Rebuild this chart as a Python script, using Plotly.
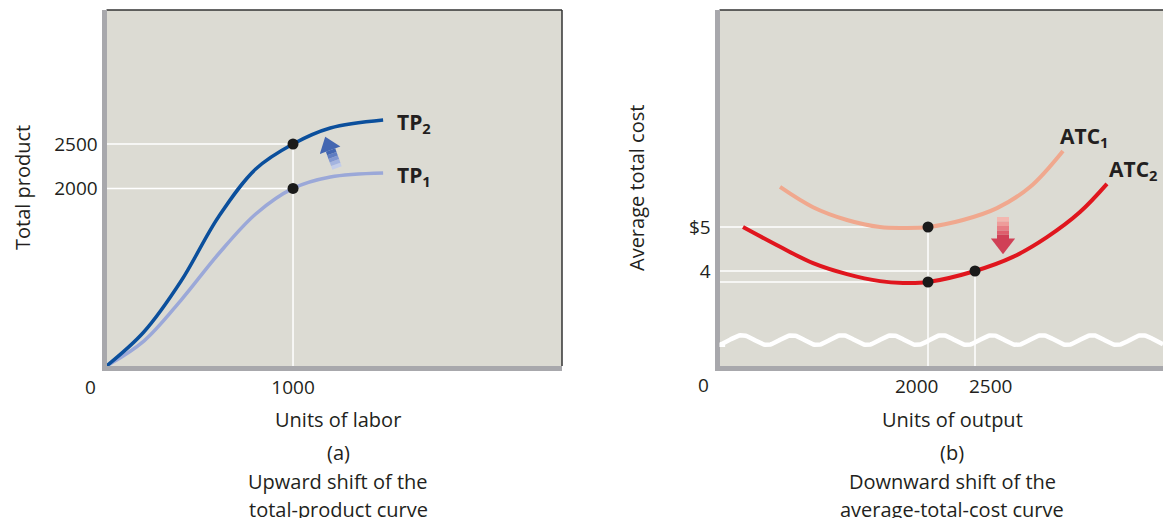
import numpy as np
import plotly.graph_objects as go

# ---------------- data: panel (a) ----------------
labor = [0, 200, 400, 600, 800, 1000, 1200, 1483]
tp2 = [0, 383, 957, 1678, 2218, 2500, 2680, 2770]
tp1 = [0, 281, 743, 1261, 1712, 2000, 2128, 2173]
pts_a_x = [1000, 1000]
pts_a_y = [2500, 2000]
xticks_a = [1000]
yticks_a = [2000, 2500]

# ---------------- data: panel (b) ----------------
out_atc1 = [426, 777, 1138, 1489, 1734, 2000, 2372, 2734, 3085, 3436]
atc1 = [5.91, 5.45, 5.16, 5.0, 4.98, 5.0, 5.16, 5.43, 5.91, 6.73]
out_atc2 = [32, 426, 777, 1138, 1489, 1734, 2000, 2500, 2904, 3266, 3617, 3904]
atc2 = [5.0, 4.55, 4.18, 3.93, 3.77, 3.73, 3.75, 4.0, 4.32, 4.77, 5.34, 5.98]
pts_b_x = [2000, 2000, 2500]
pts_b_y = [5.0, 3.75, 4.0]
xticks_b = [2000, 2500]
yticks_b = [4, 5]
yticks_b_text = ["4", "$5"]

# shift arrows (tail -> head base, then head position)
arrow_a = dict(x=[1236, 1201], y=[2230, 2432], tip=(1190, 2480))
arrow_b = dict(x=[2798, 2798], y=[5.227, 4.72], tip=(2798, 4.62))

# ---------------- styling ----------------
W, H = 1163, 518
BG = "#dcdbd3"
AXIS = "#a8a8ac"
TXT = "#231f20"
FONT = "'Open Sans', Lato, sans-serif"
xr_a = [0, 2442]
yr_a = [0, 4009]
xr_b = [-218, 4500]
yr_b = [1.841, 9.932]
dom_a = [106.5 / W, 562 / W]
dom_b = [719.5 / W, 1.0]

fig = go.Figure()

def line(x, y, color, width, xa="x", ya="y", shape="linear"):
    fig.add_trace(go.Scatter(x=x, y=y, mode="lines", xaxis=xa, yaxis=ya,
                             line=dict(color=color, width=width, shape=shape),
                             hoverinfo="skip", showlegend=False))

# guide lines panel (a)
for px, py_ in zip(pts_a_x, pts_a_y):
    line([0, px], [py_, py_], "white", 1.5)
line([pts_a_x[0], pts_a_x[0]], [0, max(pts_a_y)], "white", 1.5)

# curves panel (a)
line(labor, tp1, "#9ba8d8", 3.5, shape="spline")
line(labor, tp2, "#0b4f9c", 3.5, shape="spline")
fig.add_trace(go.Scatter(x=pts_a_x, y=pts_a_y, mode="markers", xaxis="x", yaxis="y",
                         marker=dict(color="#1a1a1a", size=11), hoverinfo="skip",
                         showlegend=False))

# guide lines panel (b)
for px, py_ in zip(pts_b_x, pts_b_y):
    line([xr_b[0], px], [py_, py_], "white", 1.5, "x2", "y2")
line([2000, 2000], [yr_b[0], 5.0], "white", 1.5, "x2", "y2")
line([2500, 2500], [yr_b[0], 4.0], "white", 1.5, "x2", "y2")

# axis break squiggle (decoration)
sq_y0, sq_amp, sq_per, sq_ph = 2.43, 0.11, 532, 21
sq_x = np.linspace(xr_b[0] - 150, xr_b[1], 500)
sq_y = sq_y0 + sq_amp * np.cos(2 * np.pi * (sq_x - sq_ph) / sq_per)
line(sq_x, sq_y, "white", 4.5, "x2", "y2")

# curves panel (b)
line(out_atc1, atc1, "#f0a88e", 4, "x2", "y2", shape="spline")
line(out_atc2, atc2, "#e0161e", 4, "x2", "y2", shape="spline")
fig.add_trace(go.Scatter(x=pts_b_x, y=pts_b_y, mode="markers", xaxis="x2", yaxis="y2",
                         marker=dict(color="#1a1a1a", size=11), hoverinfo="skip",
                         showlegend=False))

# shift arrows: graded shaft + triangular head
def grad_arrow(a, colors, width, head_symbol, head_size, head_angle, xa, ya):
    x0, x1 = a["x"]
    y0, y1 = a["y"]
    n = len(colors)
    for i, c in enumerate(colors):
        f0, f1 = i / n, (i + 1) / n
        line([x0 + (x1 - x0) * f0, x0 + (x1 - x0) * f1],
             [y0 + (y1 - y0) * f0, y0 + (y1 - y0) * f1], c, width, xa, ya)
    fig.add_trace(go.Scatter(x=[a["tip"][0]], y=[a["tip"][1]], mode="markers",
                             xaxis=xa, yaxis=ya, hoverinfo="skip", showlegend=False,
                             marker=dict(symbol=head_symbol, size=head_size,
                                         angle=head_angle, color=colors[-1],
                                         line=dict(width=0))))

grad_arrow(arrow_a, ["#c3cdea", "#a4b4e0", "#8298d2", "#5f7dc2", "#4366b1"], 10,
           "triangle-up", 19, -20, "x", "y")
grad_arrow(arrow_b, ["#f3b7b0", "#ee9c9a", "#e77e85", "#de5f6d", "#d04056"], 12,
           "triangle-down", 21, 0, "x2", "y2")

ax_common = dict(showgrid=False, zeroline=False, showline=True, linecolor=AXIS,
                 linewidth=5, ticks="", tickfont=dict(family=FONT, size=19, color=TXT),
                 fixedrange=True)

fig.update_layout(
    width=W, height=H, paper_bgcolor="white", plot_bgcolor=BG,
    margin=dict(l=0, r=0, t=10, b=152), showlegend=False, hovermode=False,
    font=dict(family=FONT, color=TXT),
    xaxis=dict(domain=dom_a, range=xr_a, anchor="y", tickvals=xticks_a,
               ticktext=[str(v) for v in xticks_a], **ax_common),
    yaxis=dict(domain=[0, 1], range=yr_a, anchor="x", tickvals=yticks_a,
               ticktext=[str(v) for v in yticks_a], **ax_common),
    xaxis2=dict(domain=dom_b, range=xr_b, anchor="y2", tickvals=[], **ax_common),
    yaxis2=dict(domain=[0, 1], range=yr_b, anchor="x2", tickvals=yticks_b,
                ticktext=yticks_b_text, **ax_common),
)

# borders (top / right)
fig.add_shape(type="line", xref="x domain", yref="y domain", x0=0, x1=1, y0=1, y1=1,
              line=dict(color="#333333", width=1.5), layer="below")
fig.add_shape(type="line", xref="x domain", yref="y domain", x0=1, x1=1, y0=0, y1=1,
              line=dict(color="#333333", width=1.5), layer="below")
fig.add_shape(type="line", xref="x2 domain", yref="y2 domain", x0=0, x1=1, y0=1, y1=1,
              line=dict(color="#333333", width=1.5), layer="below")
# squiggle crossing the y-axis of panel (b)
sq_at_axis = sq_y0 + sq_amp * np.cos(2 * np.pi * (xr_b[0] - sq_ph) / sq_per)
sq_paper = (sq_at_axis - yr_b[0]) / (yr_b[1] - yr_b[0])
fig.add_shape(type="line", xref="x2", yref="paper", x0=xr_b[0] - 150, x1=xr_b[0] + 60,
              y0=sq_paper, y1=sq_paper, line=dict(color="white", width=4.5), layer="above")

ann = []
def txt(text, x, y, xref="paper", yref="paper", size=20, xanchor="center",
        yanchor="middle", angle=0, xshift=0, yshift=0):
    ann.append(dict(text=text, x=x, y=y, xref=xref, yref=yref, showarrow=False,
                    font=dict(family=FONT, size=size, color=TXT), xanchor=xanchor,
                    yanchor=yanchor, textangle=angle, xshift=xshift, yshift=yshift))

def py(p):  # pixel-from-top -> paper y
    return (H - 152 - p) / (H - 10 - 152)

# origin labels
txt("0", 0, 0, "x", "y", size=19, xshift=-16, yshift=-21)
txt("0", xr_b[0], yr_b[0], "x2", "y2", size=19, xanchor="center", xshift=-16, yshift=-19)
# x tick labels panel (b)
txt(str(xticks_b[0]), xticks_b[0], yr_b[0], "x2", "y2", size=19, xshift=-12, yshift=-20)
txt(str(xticks_b[1]), xticks_b[1], yr_b[0], "x2", "y2", size=19, xshift=15, yshift=-20)

# axis titles & captions
txt("Total product", 22 / W, py(188), angle=-90)
txt("Average total cost", 636 / W, py(188), angle=-90)
for cx, lines_ in [(338 / W, ["Units of labor", "(a)", "Upward shift of the", "total-product curve"]),
                   (952 / W, ["Units of output", "(b)", "Downward shift of the",
                              "average-total-cost curve"])]:
    for ypix, t in zip([419, 452, 481, 509], lines_):
        txt(t, cx, py(ypix))

# curve labels
txt("<b>TP<sub>2</sub></b>", 1545, 2740, "x", "y", size=21, xanchor="left")
txt("<b>TP<sub>1</sub></b>", 1545, 2135, "x", "y", size=21, xanchor="left")
txt("<b>ATC<sub>1</sub></b>", 3383, 7.05, "x2", "y2", size=21, xanchor="left")
txt("<b>ATC<sub>2</sub></b>", 3904, 6.30, "x2", "y2", size=21, xanchor="left")

fig.update_layout(annotations=ann)
fig.write_html("out.html", post_script="document.body.style.margin='0';",
               config={"displayModeBar": False, "staticPlot": True})
